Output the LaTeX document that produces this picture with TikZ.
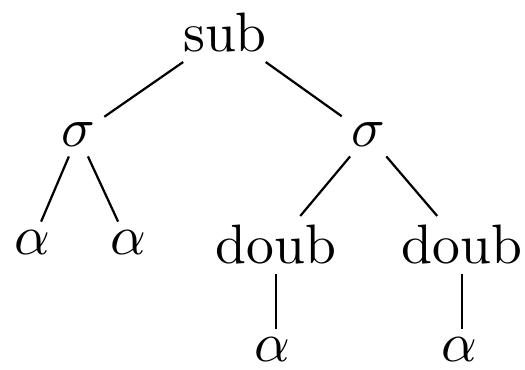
\documentclass[tikz,border=0pt]{standalone}
\usetikzlibrary{positioning}

\begin{document}
\begin{tikzpicture}[
  x=0.18pt, y=-0.18pt,
  lbl/.style={inner sep=1.5pt, font=\normalsize},
  edge/.style={line width=0.4pt}
]
\useasboundingbox (0,0) rectangle (525,369);

\node[lbl] (sub) at (225,33) {sub};
\node[lbl] (sigL) at (78,135) {$\sigma$};
\node[lbl] (sigR) at (368,135) {$\sigma$};
\node[lbl] (alphaA) at (32,243) {$\alpha$};
\node[lbl] (alphaB) at (128,243) {$\alpha$};
\node[lbl] (doubL) at (276,245) {doub};
\node[lbl] (doubR) at (462,245) {doub};
\node[lbl] (alphaC) at (272,350) {$\alpha$};
\node[lbl] (alphaD) at (459,350) {$\alpha$};

\draw[edge] (sub) -- (sigL);
\draw[edge] (sub) -- (sigR);
\draw[edge] (sigL) -- (alphaA);
\draw[edge] (sigL) -- (alphaB);
\draw[edge] (sigR) -- (doubL);
\draw[edge] (sigR) -- (doubR);
\draw[edge] (doubL.south) -- (doubL.south |- alphaC.north);
\draw[edge] (doubR.south) -- (doubR.south |- alphaD.north);

\end{tikzpicture}
\end{document}
